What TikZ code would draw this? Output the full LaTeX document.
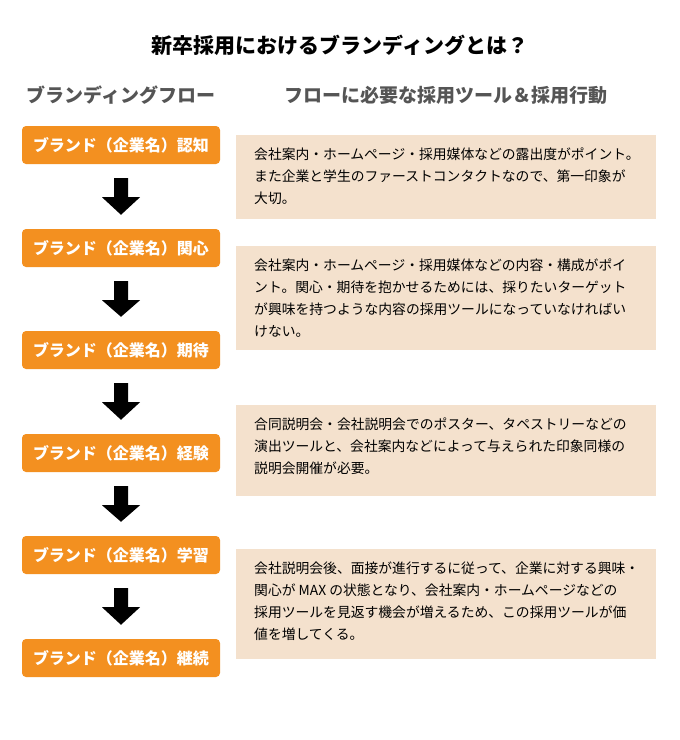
\documentclass[tikz,border=0pt]{standalone}
\usepackage{fontspec}
\setmainfont{Noto Sans CJK JP}
\definecolor{org}{HTML}{F39020}
\definecolor{bei}{HTML}{F4E1CD}
\definecolor{hd}{HTML}{555555}
\tikzset{
 flowbox/.style={fill=org,rounded corners=4pt,minimum width=198pt,minimum height=38pt,text=white,font=\bfseries\fontsize{16}{18}\selectfont,inner sep=0pt},
 notebox/.style={fill=bei,minimum width=420pt,anchor=north west,inner sep=0pt},
 notetxt/.style={anchor=north west,align=left,font=\fontsize{13.8}{22}\selectfont,inner sep=0pt,text=black},
 anchorpt/.style={inner sep=0pt,minimum size=0pt}
}
\newcommand{\blockarrow}[2]{%
 \fill[black] ($(#1.south)+(-7,14)$) -- ($(#1.south)+(7,14)$) -- ($(#1.south)+(7,33)$) -- ($(#1.south)+(19,33)$)
   -- ($(#2.north)+(0,-14)$) -- ($(#1.south)+(-19,33)$) -- ($(#1.south)+(-7,33)$) -- cycle;}
\usetikzlibrary{calc}
\begin{document}
\begin{tikzpicture}[x=1pt,y=-1pt]
\useasboundingbox (0,0) rectangle (680,740);
\node[font=\bfseries\fontsize{21}{24}\selectfont] (title) at (340,45) {新卒採用におけるブランディングとは？};
\node[font=\bfseries\fontsize{19}{22}\selectfont,text=hd] (h1) at (121,95) {ブランディングフロー};
\node[font=\bfseries\fontsize{19}{22}\selectfont,text=hd] (h2) at (446,95) {フローに必要な採用ツール＆採用行動};
\node[flowbox] (b1) at (121,145) {ブランド（企業名）認知};
\node[flowbox] (b2) at (121,248) {ブランド（企業名）関心};
\node[flowbox] (b3) at (121,350) {ブランド（企業名）期待};
\node[flowbox] (b4) at (121,453) {ブランド（企業名）経験};
\node[flowbox] (b5) at (121,555) {ブランド（企業名）学習};
\node[flowbox] (b6) at (121,658) {ブランド（企業名）継続};
\blockarrow{b1}{b2}
\blockarrow{b2}{b3}
\blockarrow{b3}{b4}
\blockarrow{b4}{b5}
\blockarrow{b5}{b6}
\node[notebox,minimum height=84pt] (n1) at (236,135) {};
\node[notebox,minimum height=104pt] (n2) at (236,246) {};
\node[notebox,minimum height=91pt] (n3) at (236,405) {};
\node[notebox,minimum height=110pt] (n4) at (236,549) {};
\node[notetxt] (t1) at (254,148) {会社案内・ホームページ・採用媒体などの露出度がポイント。\\また企業と学生のファーストコンタクトなので、第一印象が\\大切。};
\node[notetxt] (t2) at (254,259) {会社案内・ホームページ・採用媒体などの内容・構成がポイ\\ント。関心・期待を抱かせるためには、採りたいターゲット\\が興味を持つような内容の採用ツールになっていなければい\\けない。};
\node[notetxt] (t3) at (254,418) {合同説明会・会社説明会でのポスター、タペストリーなどの\\演出ツールと、会社案内などによって与えられた印象同様の\\説明会開催が必要。};
\node[notetxt] (t4) at (254,562) {会社説明会後、面接が進行するに従って、企業に対する興味・\\関心が MAX の状態となり、会社案内・ホームページなどの\\採用ツールを見返す機会が増えるため、この採用ツールが価\\値を増してくる。};
\end{tikzpicture}
\end{document}
